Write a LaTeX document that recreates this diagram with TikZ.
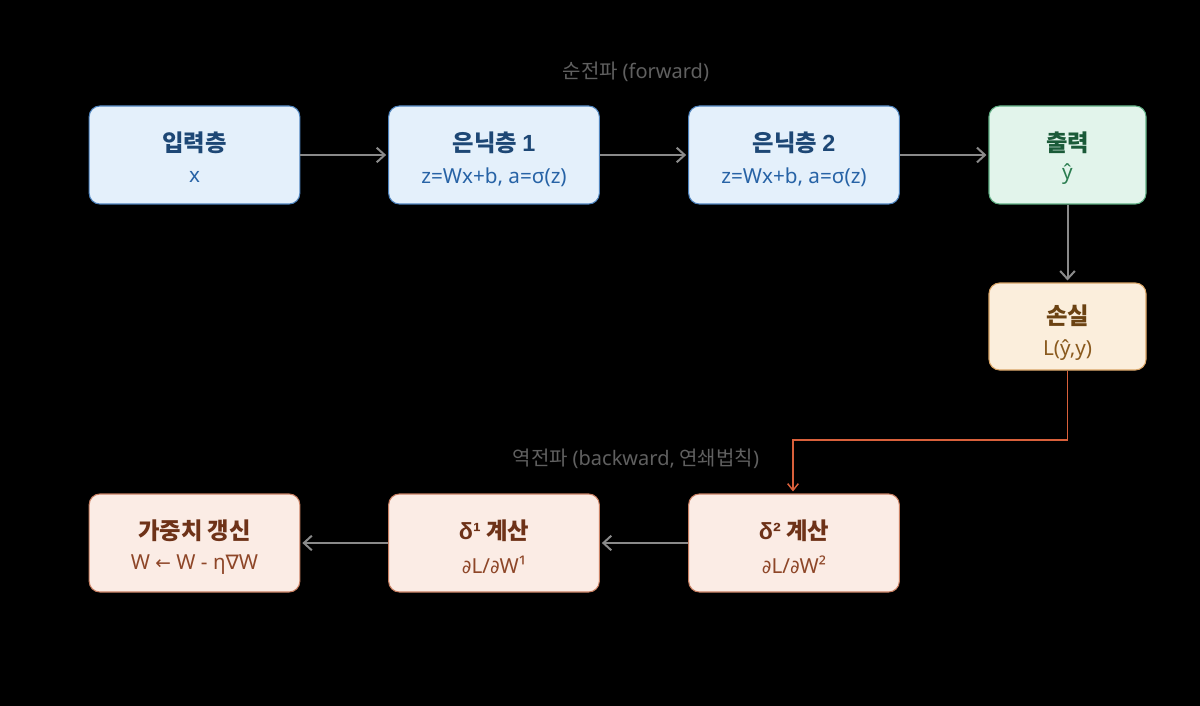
\documentclass[tikz,border=0pt]{standalone}
\usepackage{fontspec}
\setmainfont{Noto Sans CJK KR}
\newfontfamily\latinf{Noto Sans}
\newfontfamily\latinb{Liberation Sans}
\newfontfamily\symf{DejaVu Sans}
\usetikzlibrary{arrows.meta}
\definecolor{bgc}{HTML}{000000}
\definecolor{bfill}{HTML}{E4F0FB}
\definecolor{bdraw}{HTML}{4F84BE}
\definecolor{btitle}{HTML}{1D4775}
\definecolor{bsub}{HTML}{2763A6}
\definecolor{gfill}{HTML}{E2F4EB}
\definecolor{gdraw}{HTML}{5FAE83}
\definecolor{gtitle}{HTML}{1A5A38}
\definecolor{gsub}{HTML}{2B7D50}
\definecolor{ofill}{HTML}{FBEEDC}
\definecolor{odraw}{HTML}{D9A465}
\definecolor{otitle}{HTML}{6B4212}
\definecolor{osub}{HTML}{8A5A1E}
\definecolor{pfill}{HTML}{FBECE5}
\definecolor{pdraw}{HTML}{C98063}
\definecolor{ptitle}{HTML}{6E3218}
\definecolor{psub}{HTML}{8E4628}
\definecolor{arrowgray}{HTML}{8A8A8A}
\definecolor{backred}{HTML}{D9603B}
\definecolor{labgray}{HTML}{606060}
\tikzset{
  boxbase/.style={rounded corners=8pt, line width=0.8pt,
    minimum height=73.5pt, inner sep=0pt},
  wide/.style={minimum width=158pt},
  narrow/.style={minimum width=117.75pt},
  shortbox/.style={minimum height=65.25pt},
  bluebox/.style={boxbase, fill=bfill, draw=bdraw},
  greenbox/.style={boxbase, fill=gfill, draw=gdraw},
  orangebox/.style={boxbase, fill=ofill, draw=odraw},
  pinkbox/.style={boxbase, fill=pfill, draw=pdraw},
  ttl/.style={inner sep=0pt, font=\fontsize{17.5}{20}\selectfont\bfseries},
  sub/.style={inner sep=0pt, font=\latinf\fontsize{15.5}{18}\selectfont},
  flow/.style={draw=arrowgray, line width=1.5pt, -{Straight Barb[length=6pt,width=11pt,line width=1.5pt]}},
  backflow/.style={draw=backred, line width=1.1pt, -{Straight Barb[length=5pt,width=8pt,line width=1.1pt]}},
  phase/.style={text=labgray, font=\fontsize{15}{17}\selectfont}
}
\newcommand{\dd}{{\symf\fontsize{14}{16}\selectfont ∂}}
\newcommand{\lb}[1]{{\latinb\bfseries #1}}
\begin{document}
\begin{tikzpicture}[x=0.75pt,y=-0.75pt]
\fill[bgc] (0,0) rectangle (1200,706);
\useasboundingbox (0,0) rectangle (1200,706);

\node[bluebox, wide] (inp) at (194.5,155) {};
\node[bluebox, wide] (h1) at (494,155) {};
\node[bluebox, wide] (h2) at (794,155) {};
\node[greenbox, narrow] (out) at (1067.5,155) {};
\node[orangebox, narrow, shortbox] (loss) at (1067.5,326.5) {};
\node[pinkbox, wide] (upd) at (194.5,543) {};
\node[pinkbox, wide] (d1) at (494,543) {};
\node[pinkbox, wide] (d2) at (794,543) {};

\node[ttl, text=btitle] (inpT) at (194.5,142.5) {입력층};
\node[sub, text=bsub] (inpS) at (194.5,177) {x};
\node[ttl, text=btitle] (h1T) at (494,142.5) {은닉층 \lb{1}};
\node[sub, text=bsub] (h1S) at (494,177) {z=Wx+b, a=σ(z)};
\node[ttl, text=btitle] (h2T) at (794,142.5) {은닉층 \lb{2}};
\node[sub, text=bsub] (h2S) at (794,177) {z=Wx+b, a=σ(z)};
\node[ttl, text=gtitle] (outT) at (1067.5,142.5) {출력};
\node[sub, text=gsub] (outS) at (1067.5,174) {ŷ};
\node[ttl, text=otitle] (lossT) at (1067.5,316) {손실};
\node[sub, text=osub] (lossS) at (1067.5,350) {L(ŷ,y)};
\node[ttl, text=ptitle] (updT) at (194.5,530.5) {가중치 갱신};
\node[sub, text=psub] (updS) at (194.5,565) {W {\symf\fontsize{14}{16}\selectfont ←} W - η{\symf\fontsize{15}{17}\selectfont ∇}W};
\node[ttl, text=ptitle] (d1T) at (494,530.5) {\lb{δ¹} 계산};
\node[sub, text=psub] (d1S) at (494,565) {\dd L/\dd W¹};
\node[ttl, text=ptitle] (d2T) at (794,530.5) {\lb{δ²} 계산};
\node[sub, text=psub] (d2S) at (794,565) {\dd L/\dd W²};

\node[phase] (fwd) at (636,72) {순전파 {\latinf (forward)}};
\node[phase] (bwd) at (636,459) {역전파 {\latinf (backward,} 연쇄법칙{\latinf )}};

\coordinate (c1) at (1067.5,440);
\coordinate (c2) at (793,440);

\draw[flow] (inp.east) -- ([xshift=-1.5pt]h1.west);
\draw[flow] (h1.east) -- ([xshift=-1.5pt]h2.west);
\draw[flow] (h2.east) -- ([xshift=-1.5pt]out.west);
\draw[flow] (out.south) -- ([yshift=1.5pt]loss.north);
\draw[backflow] (loss.south) -- (c1) -- (c2) -- ([yshift=1.5pt]d2.north -| c2);
\draw[flow] (d2.west) -- ([xshift=1.5pt]d1.east);
\draw[flow] (d1.west) -- ([xshift=1.5pt]upd.east);
\end{tikzpicture}
\end{document}
